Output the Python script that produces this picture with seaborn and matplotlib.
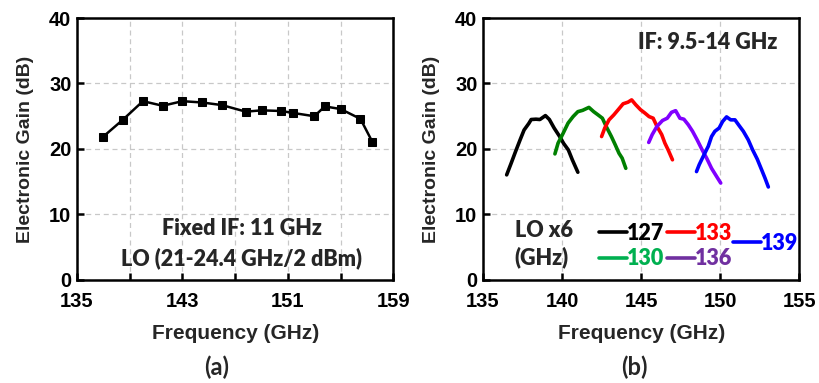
import matplotlib.pyplot as plt
from matplotlib.lines import Line2D
import numpy as np
import pandas as pd
import seaborn as sns

# (a) fixed IF sweep
freq_a = [137.0, 138.5, 140.0, 141.5, 143.0, 144.5, 146.0, 147.8, 149.0, 150.5,
          151.4, 153.0, 153.8, 155.0, 156.5, 157.4]
gain_a = [21.9, 24.5, 27.3, 26.6, 27.3, 27.1, 26.7, 25.7, 25.9, 25.8,
          25.5, 25.0, 26.5, 26.1, 24.6, 21.1]

# (b) IF sweep for each LO x6
freq_127 = [136.5, 136.78, 137.06, 137.35, 137.6, 137.9, 138.05, 138.35, 138.6, 138.95,
            139.2, 139.5, 139.85, 140.1, 140.4, 140.65, 141.0]
gain_127 = [16.05, 17.8, 19.6, 21.4, 22.9, 23.9, 24.5, 24.55, 24.5, 25.1,
            24.5, 23.2, 21.9, 20.85, 19.85, 18.35, 16.45]
freq_130 = [139.55, 139.75, 140.07, 140.38, 140.7, 141.0, 141.3, 141.7, 142.0, 142.28,
            142.55, 142.8, 143.12, 143.37, 143.6, 143.8, 144.03]
gain_130 = [19.25, 20.9, 22.4, 23.95, 24.95, 25.7, 25.9, 26.35, 25.7, 25.2,
            24.7, 23.4, 21.9, 20.6, 19.35, 18.6, 17.05]
freq_133 = [142.5, 142.7, 142.97, 143.27, 143.55, 143.86, 144.17, 144.4, 144.66, 144.96,
            145.23, 145.5, 145.76, 146.0, 146.3, 146.5, 146.7, 146.98]
gain_133 = [21.9, 23.2, 24.45, 25.2, 26.0, 26.9, 27.15, 27.5, 26.75, 26.0,
            25.5, 24.95, 24.7, 23.45, 22.2, 20.9, 19.9, 18.35]
freq_136 = [145.48, 145.7, 146.0, 146.35, 146.65, 146.92, 147.18, 147.45, 147.7, 147.98,
            148.25, 148.54, 148.86, 149.14, 149.45, 149.77, 150.03]
gain_136 = [21.0, 22.2, 23.45, 24.35, 24.7, 25.6, 25.85, 24.7, 24.55, 23.7,
            22.7, 21.4, 19.85, 18.6, 17.05, 15.8, 14.8]
freq_139 = [148.5, 148.67, 148.92, 149.24, 149.45, 149.66, 149.93, 150.15, 150.4, 150.66,
            150.93, 151.2, 151.46, 151.77, 152.05, 152.34, 152.62, 152.83, 153.04]
gain_139 = [16.55, 17.6, 18.85, 20.4, 21.9, 22.7, 23.2, 24.2, 24.9, 24.45,
            24.45, 23.55, 22.7, 21.4, 19.85, 18.45, 16.8, 15.55, 14.2]

lo_labels = ['127', '130', '133', '136', '139']
curve_colors = ['#000000', '#008000', '#FF0000', '#8000FF', '#0000FF']
legend_colors = ['#000000', '#00B050', '#FF0000', '#7030A0', '#0000FF']

df_a = pd.DataFrame({'freq': freq_a, 'gain': gain_a})
parts = []
for lab, f, g in zip(lo_labels,
                     [freq_127, freq_130, freq_133, freq_136, freq_139],
                     [gain_127, gain_130, gain_133, gain_136, gain_139]):
    parts.append(pd.DataFrame({'freq': f, 'gain': g, 'LO': lab}))
df_b = pd.concat(parts, ignore_index=True)

sns.set_theme(style='white')
plt.rcParams['font.family'] = ['Liberation Sans', 'DejaVu Sans']
plt.rcParams['font.weight'] = 'bold'
CAL = ['Lato', 'DejaVu Sans']

fig, (ax1, ax2) = plt.subplots(1, 2, figsize=(8.19, 3.83), dpi=100)
fig.subplots_adjust(left=0.094, right=0.976, bottom=0.269, top=0.953, wspace=0.283)

sns.lineplot(data=df_a, x='freq', y='gain', ax=ax1, color='black', lw=1.8,
             marker='s', markersize=6, markeredgecolor='black', sort=False)
sns.lineplot(data=df_b, x='freq', y='gain', hue='LO', palette=curve_colors,
             ax=ax2, lw=2.6, sort=False, legend=False)

for ax in (ax1, ax2):
    ax.set_ylim(0, 40)
    ax.set_yticks([0, 10, 20, 30, 40])
    ax.set_xlabel('Frequency (GHz)', fontsize=15, fontweight='bold', labelpad=9)
    ax.set_ylabel('Electronic Gain (dB)', fontsize=14, fontweight='bold', labelpad=11)
    ax.grid(True, ls=(0, (4, 3)), color='#c8c8c8', lw=0.9)
    for s in ax.spines.values():
        s.set_linewidth(1.8)
        s.set_color('black')
    ax.tick_params(direction='in', length=5, width=1.8, labelsize=14.5, pad=4,
                   colors='black', bottom=True, left=True)
    ax.tick_params(axis='x', pad=9)
    for lbl in ax.get_xticklabels() + ax.get_yticklabels():
        lbl.set_fontweight('bold')

ax1.set_xlim(135, 159)
ax1.set_xticks([135, 139, 143, 147, 151, 155, 159])
ax1.set_xticklabels(['135', '', '143', '', '151', '', '159'], fontweight='bold')
ax2.set_xlim(135, 155)
ax2.set_xticks([135, 140, 145, 150, 155])
ax2.set_xticklabels(['135', '140', '145', '150', '155'], fontweight='bold')

ann = dict(fontsize=15.5, fontweight='heavy', family=CAL, va='center')
ax1.text(0.52, 0.198, 'Fixed IF: 11 GHz', transform=ax1.transAxes, ha='center', **ann)
ax1.text(0.52, 0.083, 'LO (21-24.4 GHz/2 dBm)', transform=ax1.transAxes, ha='center', **ann)
ax2.text(0.71, 0.905, 'IF: 9.5-14 GHz', transform=ax2.transAxes, ha='center', **ann)
ax2.text(0.10, 0.19, 'LO x6', transform=ax2.transAxes, ha='left', **ann)
ax2.text(0.10, 0.085, '(GHz)', transform=ax2.transAxes, ha='left', **ann)

handles = [Line2D([], [], color=c, lw=2.6) for c in legend_colors]
leg1 = ax2.legend(handles[:4], lo_labels[:4], ncol=2, loc='center left',
                  bbox_to_anchor=(0.305, 0.13), frameon=False, handlelength=1.3,
                  handletextpad=0.0, columnspacing=0.15, labelspacing=0.2,
                  labelcolor=legend_colors[:4],
                  prop={'family': CAL, 'weight': 'heavy', 'size': 15.5})
ax2.add_artist(leg1)
ax2.legend(handles[4:], lo_labels[4:], loc='center left',
           bbox_to_anchor=(0.73, 0.14), frameon=False, handlelength=1.3,
           handletextpad=0.0, labelcolor=legend_colors[4:],
           prop={'family': CAL, 'weight': 'heavy', 'size': 15.5})

fig.text(0.265, 0.04, '(a)', ha='center', va='center', fontsize=17, family=CAL)
fig.text(0.774, 0.04, '(b)', ha='center', va='center', fontsize=17, family=CAL)

fig.savefig('out.png', dpi=100)
